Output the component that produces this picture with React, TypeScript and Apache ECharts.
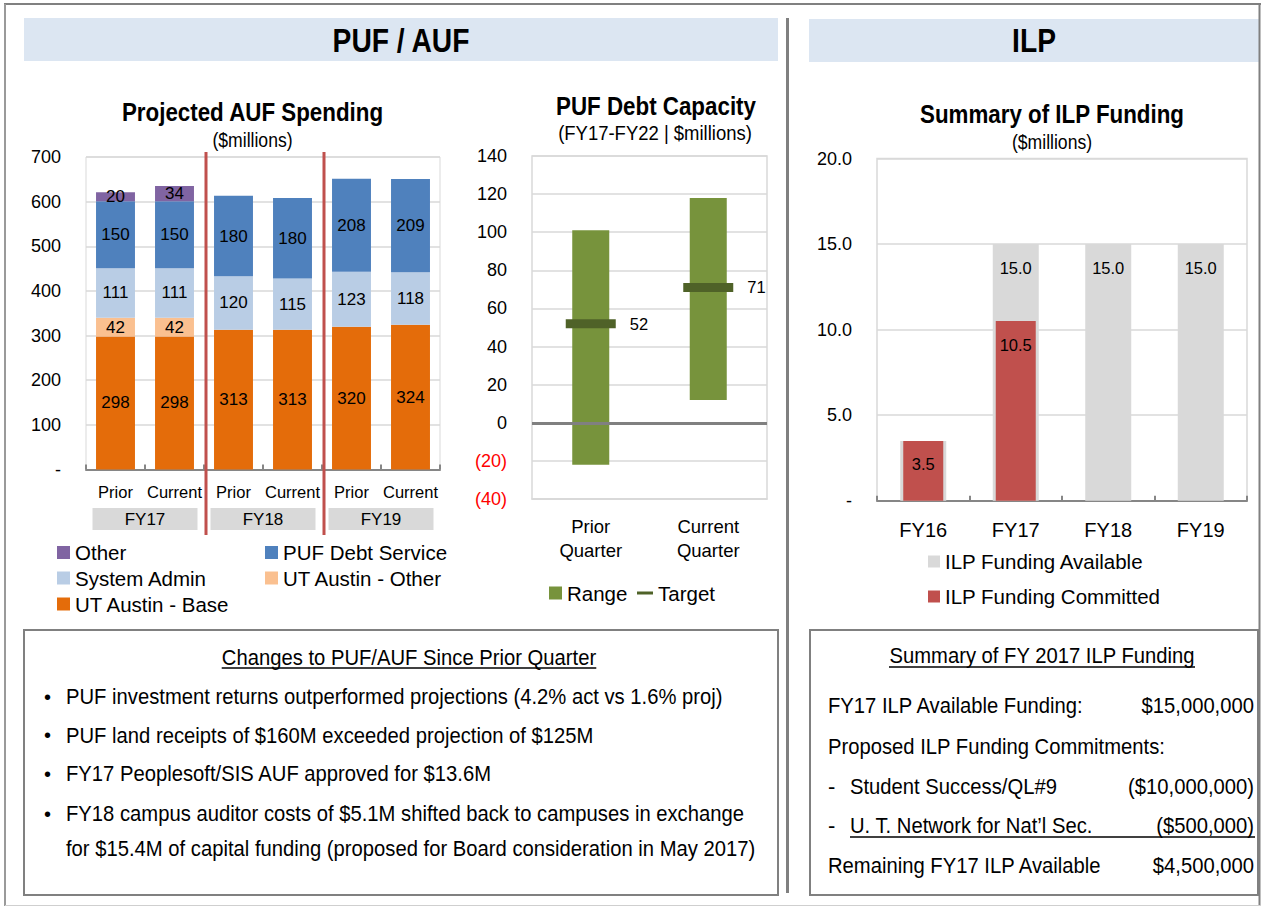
import React, { useEffect, useRef } from 'react';
import * as echarts from 'echarts';

const FONT = "'Liberation Sans', Arial, sans-serif";

// ---------- Chart 1: Projected AUF Spending ----------
const AUF_CATEGORIES = ['Prior', 'Current', 'Prior', 'Current', 'Prior', 'Current'];
const AUF_GROUPS = ['FY17', 'FY18', 'FY19'];
const AUF_BASE = [298, 298, 313, 313, 320, 324];
const AUF_UT_OTHER = [42, 42, 0, 0, 0, 0];
const AUF_SYS_ADMIN = [111, 111, 120, 115, 123, 118];
const AUF_PUF_DEBT = [150, 150, 180, 180, 208, 209];
const AUF_OTHER = [20, 34, 0, 0, 0, 0];

// ---------- Chart 2: PUF Debt Capacity ----------
const DEBT_CATEGORIES = ['Prior\nQuarter', 'Current\nQuarter'];
const DEBT_RANGE_LOW = [-22, 12];
const DEBT_RANGE_HIGH = [101, 118];
const DEBT_TARGET = [52, 71];

// ---------- Chart 3: Summary of ILP Funding ----------
const ILP_CATEGORIES = ['FY16', 'FY17', 'FY18', 'FY19'];
const ILP_AVAILABLE = [3.5, 15, 15, 15];
const ILP_COMMITTED = [3.5, 10.5, 0, 0];

// ---------- Text blocks ----------
const CHANGES_TITLE = 'Changes to PUF/AUF Since Prior Quarter';
const CHANGES_BULLETS = [
  ['PUF investment returns outperformed projections (4.2% act vs 1.6% proj)'],
  ['PUF land receipts of $160M exceeded projection of $125M'],
  ['FY17 Peoplesoft/SIS AUF approved for $13.6M'],
  [
    'FY18 campus auditor costs of $5.1M shifted back to campuses in exchange',
    'for $15.4M of capital funding (proposed for Board consideration in May 2017)',
  ],
];
const ILP_SUMMARY_TITLE = 'Summary of FY 2017 ILP Funding';
const ILP_SUMMARY_ROWS = [
  { label: 'FY17 ILP Available Funding:', amount: '$15,000,000', dash: false },
  { label: 'Proposed ILP Funding Commitments:', amount: '', dash: false },
  { label: 'Student Success/QL#9', amount: '($10,000,000)', dash: true },
  { label: 'U. T. Network for Nat\u2019l Sec.', amount: '($500,000)', dash: true },
  { label: 'Remaining FY17 ILP Available', amount: '$4,500,000', dash: false },
];

const C_BASE = '#e46c0a';
const C_UT_OTHER = '#fac090';
const C_SYS = '#b9cde5';
const C_PUF = '#4f81bd';
const C_OTHER = '#8064a2';
const C_RANGE = '#77933c';
const C_TARGET = '#4f6228';
const C_AVAIL = '#d9d9d9';
const C_COMMIT = '#c0504d';
const C_HEADER = '#dce6f2';
const C_BORDER = '#808080';
const C_GRID = '#d9d9d9';

const G1 = { left: 86, top: 157, width: 354, height: 312.5 };
const G2 = { left: 532, top: 156, width: 235, height: 343 };
const G3 = { left: 877, top: 158.5, width: 370, height: 342.3 };

// horizontal compression factors emulating the narrow face of the original
const SX_HEAD = 0.83;
const SX_TITLE = 0.86;
const SX_SUB = 0.88;
const SX_BODY = 0.92;

function measure(text: string, size: number, bold = false): number {
  const ctx = document.createElement('canvas').getContext('2d');
  if (!ctx) return text.length * size * 0.5;
  ctx.font = `${bold ? 'bold ' : ''}${size}px ${FONT}`;
  return ctx.measureText(text).width;
}

function txt(x: number, y: number, text: string, size: number, opts: any = {}) {
  const align = opts.align || 'left';
  return {
    type: 'text',
    x,
    y,
    scaleX: opts.sx || 1,
    silent: true,
    z: 100,
    style: {
      x: 0,
      y: 0,
      text,
      fontSize: size,
      fontFamily: FONT,
      fontWeight: opts.bold ? 'bold' : 'normal',
      fill: opts.color || '#000',
      align,
      textAlign: align,
      verticalAlign: 'middle',
      textVerticalAlign: 'middle',
    },
  };
}

function hline(x1: number, x2: number, y: number, color: string, width: number) {
  return {
    type: 'line',
    silent: true,
    z: 100,
    shape: { x1, y1: y, x2, y2: y },
    style: { stroke: color, lineWidth: width },
  };
}

function vline(x: number, y1: number, y2: number, color: string, width: number) {
  return {
    type: 'line',
    silent: true,
    z: 100,
    shape: { x1: x, y1, x2: x, y2 },
    style: { stroke: color, lineWidth: width },
  };
}

function buildGraphics() {
  const g: any[] = [];
  // outer frame
  g.push(hline(4, 1261, 4, C_BORDER, 2));
  g.push(vline(5, 4, 906, '#9a9a9a', 2));
  g.push(vline(1259.5, 4, 906, C_BORDER, 2));
  g.push(hline(5, 1261, 905.5, '#cfcfcf', 1));
  // headers
  g.push({ type: 'rect', silent: true, z: 1, shape: { x: 24, y: 18, width: 754, height: 43 }, style: { fill: C_HEADER } });
  g.push({ type: 'rect', silent: true, z: 1, shape: { x: 809, y: 19, width: 450, height: 43 }, style: { fill: C_HEADER } });
  g.push(txt(401, 40.5, 'PUF / AUF', 34, { bold: true, align: 'center', sx: SX_HEAD }));
  g.push(txt(1034, 41, 'ILP', 34, { bold: true, align: 'center', sx: SX_HEAD }));
  // divider
  g.push(vline(787.5, 18, 893, C_BORDER, 3));
  // chart titles
  g.push(txt(252.5, 112, 'Projected AUF Spending', 26, { bold: true, align: 'center', sx: SX_TITLE }));
  g.push(txt(252.5, 140, '($millions)', 20, { align: 'center', sx: SX_SUB }));
  g.push(txt(656, 106, 'PUF Debt Capacity', 26, { bold: true, align: 'center', sx: SX_TITLE }));
  g.push(txt(655, 133, '(FY17-FY22 | $millions)', 21, { align: 'center', sx: SX_SUB }));
  g.push(txt(1052, 114, 'Summary of ILP Funding', 26, { bold: true, align: 'center', sx: SX_TITLE }));
  g.push(txt(1052, 142, '($millions)', 20, { align: 'center', sx: SX_SUB }));
  // red separators between fiscal-year groups
  const groupW = G1.width / AUF_GROUPS.length;
  for (let k = 1; k < AUF_GROUPS.length; k++) {
    g.push(vline(G1.left + groupW * k + 2, 152, 535, C_COMMIT, 3));
  }
  // text boxes
  g.push({ type: 'rect', silent: true, z: 50, shape: { x: 24, y: 630, width: 754, height: 265 }, style: { fill: 'none', stroke: C_BORDER, lineWidth: 2 } });
  g.push({ type: 'rect', silent: true, z: 50, shape: { x: 810, y: 630, width: 448, height: 265 }, style: { fill: 'none', stroke: C_BORDER, lineWidth: 2 } });

  // left box
  const ct = 409;
  g.push(txt(ct, 657, CHANGES_TITLE, 22, { align: 'center', sx: SX_BODY }));
  const cw = measure(CHANGES_TITLE, 22) * SX_BODY;
  g.push(hline(ct - cw / 2, ct + cw / 2, 668, '#000', 1.3));
  const lineYs = [696.5, 735, 773.5, 813.5, 848];
  let li = 0;
  CHANGES_BULLETS.forEach((b) => {
    b.forEach((line, j) => {
      const y = lineYs[li++];
      if (j === 0) g.push(txt(44, y, '\u2022', 20));
      g.push(txt(66, y, line, 22, { sx: SX_BODY }));
    });
  });

  // right box
  const rt = 1042;
  g.push(txt(rt, 655.5, ILP_SUMMARY_TITLE, 22, { align: 'center', sx: SX_BODY }));
  const rw = measure(ILP_SUMMARY_TITLE, 22) * SX_BODY;
  g.push(hline(rt - rw / 2, rt + rw / 2, 667, '#000', 1.3));
  const rowYs = [705, 746.5, 786.5, 825, 865];
  ILP_SUMMARY_ROWS.forEach((r, i) => {
    const y = rowYs[i];
    if (r.dash) {
      g.push(txt(828, y, '-', 22));
      g.push(txt(850, y, r.label, 22, { sx: SX_BODY }));
    } else {
      g.push(txt(828, y, r.label, 22, { sx: SX_BODY }));
    }
    if (r.amount) g.push(txt(1254, y, r.amount, 22, { align: 'right', sx: SX_BODY }));
  });
  // underline under last commitment
  g.push(hline(850, 1255, 837, '#000', 1.5));
  return g;
}

const baseText = { fontFamily: FONT, color: '#000' };

function legendItem(name: string, left: number, cy: number, extra: any = {}) {
  return {
    data: [name],
    left,
    top: cy - 12,
    padding: 0,
    itemWidth: 13,
    itemHeight: 13,
    itemGap: 0,
    icon: 'rect',
    selectedMode: false,
    textStyle: { fontSize: 20.5, lineHeight: 24, fontFamily: FONT, color: '#000' },
    ...extra,
  };
}

function barSeries(name: string, data: number[], color: string) {
  return {
    type: 'bar',
    name,
    stack: 'auf',
    xAxisIndex: 0,
    yAxisIndex: 0,
    barWidth: '66%',
    data,
    itemStyle: { color },
    label: {
      show: true,
      position: 'inside',
      fontSize: 17,
      ...baseText,
      formatter: (p: any) => (p.value ? String(p.value) : ''),
    },
  };
}

function buildOption(): any {
  return {
    animation: false,
    backgroundColor: '#fff',
    textStyle: { fontFamily: FONT },
    grid: [
      { ...G1, show: true, borderColor: C_GRID, borderWidth: 1, containLabel: false },
      { ...G2, show: true, borderColor: C_GRID, borderWidth: 1.5, containLabel: false },
      { ...G3, show: true, borderColor: C_GRID, borderWidth: 1.5, containLabel: false },
    ],
    xAxis: [
      {
        gridIndex: 0,
        type: 'category',
        data: AUF_CATEGORIES,
        axisLine: { lineStyle: { color: '#868686', width: 2 } },
        axisTick: { show: true, inside: true, length: 5, lineStyle: { color: '#868686', width: 2 } },
        axisLabel: { interval: 0, margin: 14, fontSize: 16.5, ...baseText },
      },
      {
        gridIndex: 0,
        type: 'category',
        position: 'bottom',
        data: AUF_GROUPS,
        axisLine: { show: false },
        axisTick: { show: false },
        splitLine: { show: false },
        axisLabel: {
          interval: 0,
          margin: 38.5,
          formatter: (v: string) => `{box|${v}}`,
          rich: {
            box: {
              backgroundColor: '#d9d9d9',
              width: 105,
              height: 22,
              lineHeight: 22,
              align: 'center',
              fontSize: 17,
              ...baseText,
            },
          },
        },
      },
      {
        gridIndex: 1,
        type: 'category',
        data: DEBT_CATEGORIES,
        axisLine: { onZero: false, lineStyle: { color: C_GRID, width: 1.5 } },
        axisTick: { show: false },
        axisLabel: { interval: 0, margin: 15, fontSize: 18.5, lineHeight: 24, ...baseText },
      },
      {
        gridIndex: 2,
        type: 'category',
        data: ILP_CATEGORIES,
        axisLine: { lineStyle: { color: '#868686', width: 2 } },
        axisTick: { show: true, inside: true, length: 5, lineStyle: { color: '#868686', width: 2 } },
        axisLabel: { interval: 0, margin: 19, fontSize: 20, ...baseText },
      },
      {
        gridIndex: 2,
        type: 'category',
        data: ILP_CATEGORIES,
        show: false,
      },
    ],
    yAxis: [
      {
        gridIndex: 0,
        type: 'value',
        min: 0,
        max: 700,
        interval: 100,
        axisLine: { show: false },
        axisTick: { show: false },
        splitLine: { lineStyle: { color: C_GRID, width: 1.5 } },
        axisLabel: { margin: 25, fontSize: 18, ...baseText, formatter: (v: number) => (v === 0 ? '-' : String(v)) },
      },
      {
        gridIndex: 1,
        type: 'value',
        min: -40,
        max: 140,
        interval: 20,
        axisLine: { show: false },
        axisTick: { show: false },
        splitLine: { lineStyle: { color: C_GRID, width: 1.5 } },
        axisLabel: {
          margin: 25,
          fontSize: 18,
          ...baseText,
          formatter: (v: number) => (v < 0 ? `{neg|(${-v})}` : String(v)),
          rich: { neg: { color: '#ff0000', fontSize: 18, fontFamily: FONT } },
        },
      },
      {
        gridIndex: 2,
        type: 'value',
        min: 0,
        max: 20,
        interval: 5,
        axisLine: { show: false },
        axisTick: { show: false },
        splitLine: { lineStyle: { color: C_GRID, width: 1.5 } },
        axisLabel: { margin: 25, fontSize: 18, ...baseText, formatter: (v: number) => (v === 0 ? '-' : v.toFixed(1)) },
      },
    ],
    legend: [
      legendItem('Other', 57, 552.5),
      legendItem('PUF Debt Service', 265, 552.5),
      legendItem('System Admin', 57, 578),
      legendItem('UT Austin - Other', 265, 578),
      legendItem('UT Austin - Base', 57, 604),
      legendItem('Range', 549, 593),
      legendItem('Target', 637, 593, { itemWidth: 16, itemHeight: 3 }),
      legendItem('ILP Funding Available', 928, 561.5, { itemWidth: 12, itemHeight: 12 }),
      legendItem('ILP Funding Committed', 928, 596.5, { itemWidth: 12, itemHeight: 12 }),
    ],
    series: [
      barSeries('UT Austin - Base', AUF_BASE, C_BASE),
      barSeries('UT Austin - Other', AUF_UT_OTHER, C_UT_OTHER),
      barSeries('System Admin', AUF_SYS_ADMIN, C_SYS),
      barSeries('PUF Debt Service', AUF_PUF_DEBT, C_PUF),
      barSeries('Other', AUF_OTHER, C_OTHER),
      {
        type: 'custom',
        name: 'Range',
        xAxisIndex: 2,
        yAxisIndex: 1,
        itemStyle: { color: C_RANGE },
        encode: { x: 0, y: [1, 2] },
        data: DEBT_RANGE_LOW.map((lo, i) => [i, lo, DEBT_RANGE_HIGH[i]]),
        renderItem: (params: any, api: any) => {
          const xi = api.value(0);
          const lo = api.coord([xi, api.value(1)]);
          const hi = api.coord([xi, api.value(2)]);
          const w = api.size([1, 0])[0] * 0.315;
          return {
            type: 'rect',
            shape: { x: lo[0] - w / 2, y: hi[1], width: w, height: lo[1] - hi[1] },
            style: { fill: C_RANGE },
          };
        },
      },
      {
        type: 'scatter',
        name: 'Target',
        xAxisIndex: 2,
        yAxisIndex: 1,
        symbol: 'rect',
        symbolSize: [50, 9],
        itemStyle: { color: C_TARGET, opacity: 1 },
        data: DEBT_TARGET,
        z: 5,
        label: { show: true, position: 'right', distance: 14, fontSize: 16.5, ...baseText },
        markLine: {
          silent: true,
          symbol: 'none',
          label: { show: false },
          lineStyle: { color: '#808080', width: 3, type: 'solid' },
          data: [{ yAxis: 0 }],
        },
      },
      {
        type: 'bar',
        name: 'ILP Funding Available',
        xAxisIndex: 3,
        yAxisIndex: 2,
        barWidth: 46,
        itemStyle: { color: C_AVAIL },
        data: ILP_AVAILABLE.map((v, i) => (v > ILP_COMMITTED[i] ? v : { value: v, label: { show: false } })),
        label: {
          show: true,
          position: 'insideTop',
          distance: 15,
          fontSize: 16.5,
          ...baseText,
          formatter: (p: any) => Number(p.value).toFixed(1),
        },
      },
      {
        type: 'bar',
        name: 'ILP Funding Committed',
        xAxisIndex: 4,
        yAxisIndex: 2,
        barWidth: 40,
        itemStyle: { color: C_COMMIT },
        data: ILP_COMMITTED,
        label: {
          show: true,
          position: 'insideTop',
          distance: 15,
          fontSize: 16.5,
          ...baseText,
          formatter: (p: any) => (p.value ? Number(p.value).toFixed(1) : ''),
        },
      },
    ],
    graphic: { elements: buildGraphics() },
  };
}

export default function App() {
  const ref = useRef<HTMLDivElement>(null);
  useEffect(() => {
    if (!ref.current) return;
    const chart = echarts.init(ref.current, undefined, { renderer: 'svg' });
    chart.setOption(buildOption());
    return () => chart.dispose();
  }, []);
  return (
    <div
      ref={ref}
      style={{ position: 'absolute', left: 0, top: 0, width: 1262, height: 907, background: '#fff' }}
    />
  );
}
